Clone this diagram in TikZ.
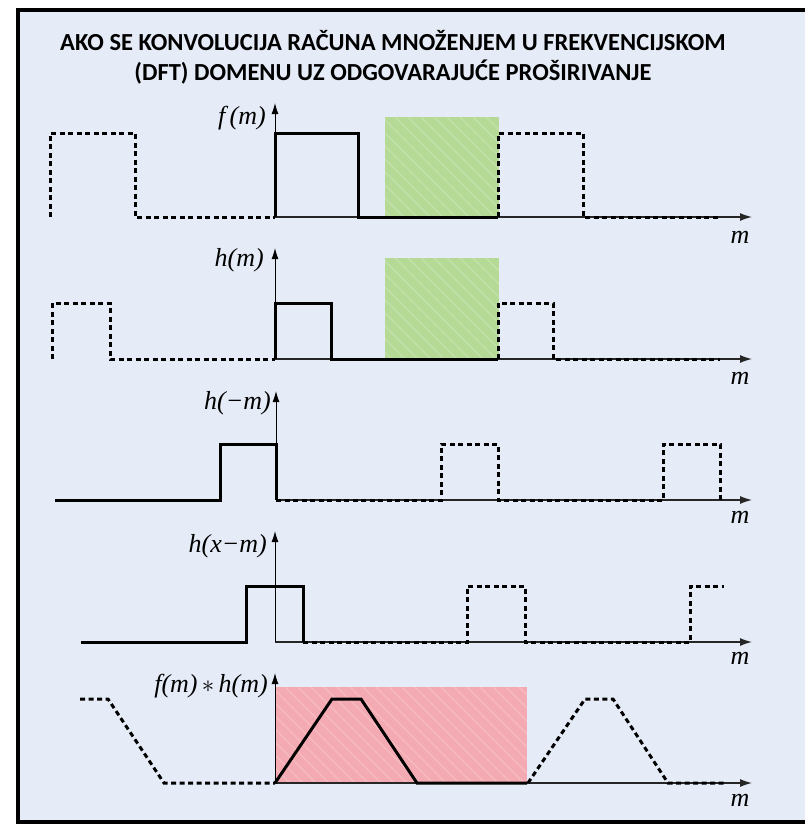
\documentclass[tikz,border=0pt]{standalone}
\usepackage{fontspec}
\newfontfamily\titlefont{Carlito}
\newfontfamily\labfont{Liberation Serif}
\usetikzlibrary{arrows.meta}
\definecolor{bgblue}{HTML}{E6ECF7}
\definecolor{hatchgreen}{HTML}{B5DA95}
\definecolor{hatchred}{HTML}{F4AAB2}
\tikzset{
  axisline/.style={line width=1.2pt, black!85, -{Latex[length=12pt,width=8pt]}},
  yaxisline/.style={line width=1pt, black, -{Latex[length=11pt,width=7pt]}},
  solidsig/.style={line width=3pt, black, line join=miter},
  dashsig/.style={line width=3pt, black, dash pattern=on 5pt off 3.5pt},
  funclabel/.style={font=\labfont\itshape\fontsize{26}{26}\selectfont, anchor=base east, inner sep=0pt},
  mlabel/.style={font=\labfont\itshape\fontsize{26}{26}\selectfont, anchor=base, inner sep=0pt},
}
\newcommand{\hatchbox}[5]{%
  \fill[#5] (#1,#2) rectangle (#3,#4);
  \begin{scope}
    \clip (#1,#2) rectangle (#3,#4);
    \foreach \k in {-120,-107,...,260}{
      \draw[white, opacity=0.2, line width=1.4pt] ({#1+\k},#2) -- ({#1+\k+110},{#2+110});
    }
  \end{scope}
}
\begin{document}
\begin{tikzpicture}[x=1pt,y=-1pt]
\useasboundingbox (0,0) rectangle (805,827);
% frame
\fill[bgblue] (18,10) rectangle (815,821.5);
\draw[line width=4pt, black] (815,10) -- (18,10) -- (18,821.5) -- (815,821.5);
% title
\node[font=\titlefont\bfseries\fontsize{24.5}{30}\selectfont, align=center, anchor=center] (title) at (393,57)
  {AKO SE KONVOLUCIJA RAČUNA MNOŽENJEM U FREKVENCIJSKOM\\(DFT) DOMENU UZ ODGOVARAJUĆE PROŠIRIVANJE};

% ---------- row 1: f(m)
\hatchbox{385}{117}{499}{217}{hatchgreen}
\draw[axisline] (275,217) -- (752,217);
\draw[yaxisline] (275,217) -- (275,103);
\draw[solidsig] (275,217) -- (275,133) -- (358,133) -- (358,217) -- (498,217);
\draw[dashsig] (50,217) -- (50,133) -- (135,133) -- (135,217) -- (275,217);
\draw[dashsig] (498,217) -- (498,133) -- (583,133) -- (583,217) -- (720,217);
\node[funclabel] (lf) at (266,124) {f\,(m)};
\node[mlabel] (m1) at (740,243) {m};

% ---------- row 2: h(m)
\hatchbox{385}{258}{499}{359}{hatchgreen}
\draw[axisline] (275,359) -- (752,359);
\draw[yaxisline] (275,359) -- (275,248);
\draw[solidsig] (275,359) -- (275,303) -- (331,303) -- (331,359) -- (498,359);
\draw[dashsig] (52,359) -- (52,303) -- (110,303) -- (110,359) -- (275,359);
\draw[dashsig] (498,359) -- (498,303) -- (553,303) -- (553,359) -- (720,359);
\node[funclabel] (lh) at (264,266) {h(m)};
\node[mlabel] (m2) at (740,384) {m};

% ---------- row 3: h(-m)
\draw[axisline] (276,500) -- (752,500);
\draw[yaxisline] (276,500) -- (276,391);
\draw[solidsig] (55,500) -- (220,500) -- (220,444) -- (276,444) -- (276,500);
\draw[dashsig] (276,500) -- (441,500) -- (441,444) -- (498,444) -- (498,500) -- (663,500) -- (663,444) -- (720,444) -- (720,500);
\node[funclabel] (lhm) at (271,409) {h(−m)};
\node[mlabel] (m3) at (740,523) {m};

% ---------- row 4: h(x-m)
\draw[axisline] (275,642) -- (752,642);
\draw[yaxisline] (275,642) -- (275,531);
\draw[solidsig] (81,642) -- (246,642) -- (246,586) -- (303,586) -- (303,642);
\draw[dashsig] (303,642) -- (467,642) -- (467,586) -- (525,586) -- (525,642) -- (690,642) -- (690,586) -- (724,586);
\node[funclabel] (lhx) at (267,552) {h(x−m)};
\node[mlabel] (m4) at (740,664) {m};

% ---------- row 5: f*h
\hatchbox{275}{687}{527}{783}{hatchred}
\draw[axisline] (275,783) -- (752,783);
\draw[yaxisline] (275,783) -- (275,673);
\draw[solidsig] (275,783) -- (332,699) -- (361,699) -- (417,783) -- (527,783);
\draw[dashsig] (80,699) -- (108,699) -- (164,783) -- (275,783);
\draw[dashsig] (528,783) -- (585,699) -- (613,699) -- (668,783) -- (727,783);
\node[funclabel] (lfh) at (268,692) {f(m)\,$\ast$\,h(m)};
\node[mlabel] (m5) at (740,806) {m};
\end{tikzpicture}
\end{document}
